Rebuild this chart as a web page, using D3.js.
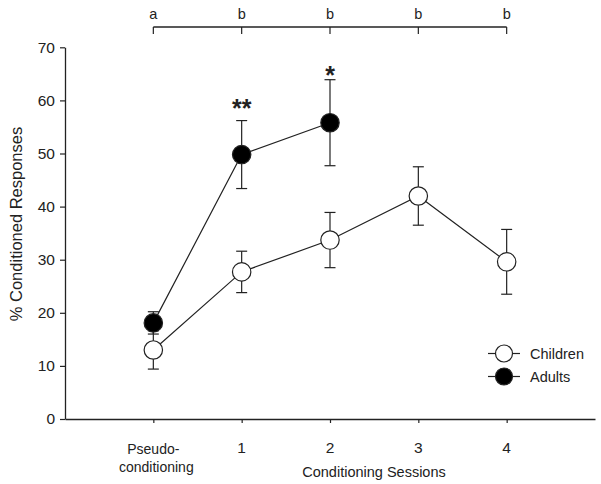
<!DOCTYPE html>
<html><head><meta charset="utf-8">
<script src="https://cdn.jsdelivr.net/npm/d3@7"></script>
<style>body{margin:0;background:#fff}svg{display:block}text{font-family:"Liberation Sans",Arial,sans-serif;fill:#222}</style>
</head><body>
<script>
const categories = ["Pseudo-conditioning", "1", "2", "3", "4"];
const childrenMean = [13.0, 27.7, 33.7, 42.0, 29.6];
const childrenErr = [3.6, 3.9, 5.2, 5.5, 6.1];
const adultsMean = [18.1, 49.8, 55.8];
const adultsErr = [2.1, 6.4, 8.1];
const groupLetters = ["a", "b", "b", "b", "b"];
const starIndex = [1, 2];
const starText = ["**", "*"];
const starValue = [59.6, 65.8];
const yTicks = [0, 10, 20, 30, 40, 50, 60, 70];

const W = 601, H = 484;
const svg = d3.select("body").append("svg").attr("width", W).attr("height", H);
const x = d3.scaleLinear().domain([-1, 5]).range([65, 595]);
const y = d3.scaleLinear().domain([0, 70]).range([419, 47.3]);
const col = "#222";

// Y axis
const ya = svg.append("g").attr("transform", "translate(65,0)")
  .call(d3.axisLeft(y).tickValues(yTicks).tickSize(5).tickPadding(5).tickSizeOuter(0));
ya.select(".domain").attr("stroke", col).attr("stroke-width", 1.3);
ya.selectAll(".tick line").attr("stroke", col).attr("stroke-width", 1.2);
ya.selectAll(".tick text").style("font-size", "15.5px").style("font-family", "Liberation Sans, Arial, sans-serif").attr("fill", "#222");

// X axis
const xa = svg.append("g").attr("transform", "translate(0,419)")
  .call(d3.axisBottom(x).tickValues(d3.range(categories.length)).tickSize(4).tickSizeOuter(0).tickFormat(""));
xa.select(".domain").attr("stroke", col).attr("stroke-width", 1.3);
xa.selectAll(".tick line").attr("stroke", col).attr("stroke-width", 1.2);
categories.forEach((c, i) => {
  if (i === 0) {
    svg.append("text").attr("x", x(i)).attr("y", 454).attr("text-anchor", "middle").style("font-size", "14px").text("Pseudo-");
    svg.append("text").attr("x", x(i) + 3).attr("y", 472).attr("text-anchor", "middle").style("font-size", "14px").text("conditioning");
  } else {
    svg.append("text").attr("x", x(i)).attr("y", 453).attr("text-anchor", "middle").style("font-size", "15.5px").text(c);
  }
});
svg.append("text").attr("x", 374).attr("y", 477).attr("text-anchor", "middle").style("font-size", "14.5px").text("Conditioning Sessions");
svg.append("text").attr("transform", "translate(22,224) rotate(-90)").attr("text-anchor", "middle").style("font-size", "16.5px").text("% Conditioned Responses");

// Top bracket
const by = 27;
svg.append("line").attr("x1", x(0)).attr("x2", x(categories.length - 1)).attr("y1", by).attr("y2", by).attr("stroke", col).attr("stroke-width", 1.3);
groupLetters.forEach((l, i) => {
  svg.append("line").attr("x1", x(i)).attr("x2", x(i)).attr("y1", by).attr("y2", by + 7).attr("stroke", col).attr("stroke-width", 1.2);
  svg.append("text").attr("x", x(i)).attr("y", 19).attr("text-anchor", "middle").style("font-size", "14.5px").text(l);
});

function series(mean, err, fill) {
  const g = svg.append("g");
  const line = d3.line().x((d, i) => x(i)).y(d => y(d));
  g.append("path").attr("d", line(mean)).attr("fill", "none").attr("stroke", col).attr("stroke-width", 1.2);
  mean.forEach((m, i) => {
    const cx = x(i), hi = y(m + err[i]), lo = y(m - err[i]);
    g.append("line").attr("x1", cx).attr("x2", cx).attr("y1", hi).attr("y2", lo).attr("stroke", col).attr("stroke-width", 1.2);
    [hi, lo].forEach(v => g.append("line").attr("x1", cx - 5.5).attr("x2", cx + 5.5).attr("y1", v).attr("y2", v).attr("stroke", col).attr("stroke-width", 1.2));
  });
  mean.forEach((m, i) => {
    g.append("circle").attr("cx", x(i)).attr("cy", y(m)).attr("r", 9.2).attr("fill", fill).attr("stroke", col).attr("stroke-width", 1.2);
  });
}
series(childrenMean, childrenErr, "#fff");
series(adultsMean, adultsErr, "#000");

starIndex.forEach((si, k) => {
  svg.append("text").attr("x", x(si)).attr("y", y(starValue[k]) + 14).attr("text-anchor", "middle")
    .style("font-size", "25px").style("font-weight", "bold").text(starText[k]);
});

// Legend
const legendNames = ["Children", "Adults"];
const legendFills = ["#fff", "#000"];
legendNames.forEach((name, k) => {
  const yy = 353.5 + k * 23;
  svg.append("line").attr("x1", 488).attr("x2", 520).attr("y1", yy).attr("y2", yy).attr("stroke", col).attr("stroke-width", 1.2);
  svg.append("circle").attr("cx", 504).attr("cy", yy).attr("r", 8.5).attr("fill", legendFills[k]).attr("stroke", col).attr("stroke-width", 1.2);
  svg.append("text").attr("x", 530).attr("y", yy + 5).style("font-size", "14.5px").text(name);
});
</script>
</body></html>
